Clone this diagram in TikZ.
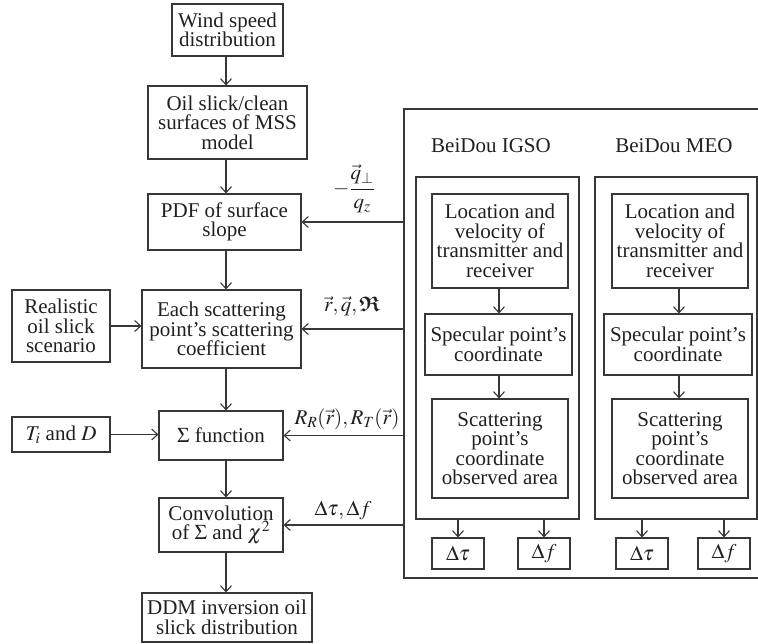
\documentclass[tikz,border=0pt]{standalone}
\usepackage{mathptmx}
\usepackage{amsmath,amssymb}
\usepackage[no-math]{fontspec}
\setmainfont{Liberation Serif}
\usetikzlibrary{arrows.meta}
\definecolor{ln}{RGB}{55,55,55}
\definecolor{tx}{RGB}{35,31,32}
\tikzset{
  box/.style={draw=ln, line width=1.1pt, inner sep=0pt, align=center, text=tx},
  lbl/.style={inner sep=0pt, text=tx},
  arr/.style={draw=ln, line width=1.1pt, -{Straight Barb[length=6pt,width=11pt,line width=1.1pt]}},
  ln/.style={draw=ln, line width=1.1pt}
}
\begin{document}
\begin{tikzpicture}[x=1pt,y=-1pt, every node/.append style={font=\fontsize{21}{19.5}\selectfont}]
\useasboundingbox (0,0) rectangle (758,644);
% left column
\node[box, minimum width=111, minimum height=52] (wind) at (227.5,30) {Wind speed\\distribution};
\node[box, minimum width=159, minimum height=73] (oil) at (227.5,122.5) {Oil slick/clean\\surfaces of MSS\\model};
\node[box, minimum width=153, minimum height=56] (pdf) at (224.5,222) {PDF of surface\\slope};
\node[box, minimum width=159, minimum height=78] (each) at (221.5,329) {Each scattering\\point’s scattering\\coefficient};
\node[box, minimum width=98, minimum height=72] (real) at (61,326) {Realistic\\oil slick\\scenario};
\node[box, minimum width=124, minimum height=49] (sig) at (221,435.5) {$\Sigma$ function};
\node[box, minimum width=98, minimum height=35] (ti) at (61,434.5) {$T_i$ and $D$};
\node[box, minimum width=124, minimum height=54] (conv) at (221,525) {Convolution\\of $\Sigma$ and $\chi^2$};
\node[box, minimum width=170, minimum height=49] (ddm) at (227,617.5) {DDM inversion oil\\slick distribution};
\coordinate (colx) at (226,0);
\draw[arr] (wind.south -| colx) -- (oil.north -| colx);
\draw[arr] (oil.south -| colx) -- (pdf.north -| colx);
\draw[arr] (pdf.south -| colx) -- (each.north -| colx);
\draw[arr] (each.south -| colx) -- (sig.north -| colx);
\draw[arr] (sig.south -| colx) -- (conv.north -| colx);
\draw[arr] (conv.south -| colx) -- (ddm.north -| colx);
\draw[arr] (real.east) -- (real.east -| each.west);
\draw[arr] (ti.east) -- (ti.east -| sig.west);
% big container
\coordinate (bigtl) at (404,109);
\coordinate (bigbl) at (404,578);
\draw[ln] (758,109) -- (bigtl) -- (bigbl) -- (758,578);
\draw[arr] (bigtl |- pdf.east) -- (pdf.east);
\draw[arr] (bigtl |- each.east) -- (each.east);
\draw[arr] (bigtl |- sig.east) -- (sig.east);
\draw[arr] (bigtl |- conv.east) -- (conv.east);
% labels on arrows
\node[lbl] (l1) at (354,189) {$-\dfrac{\vec{q}_{\perp}}{q_z}$};
\node[lbl] (l2) at (352,306) {$\vec{r}, \vec{q}, \boldsymbol{\mathfrak{R}}$};
\node[lbl] (l3) at (347,419) {$R_R(\vec{r}), R_T(\vec{r})$};
\node[lbl] (l4) at (343,511) {$\Delta\tau, \Delta f$};
% IGSO
\node[lbl] (tig) at (491,146) {BeiDou IGSO};
\node[box, minimum width=163, minimum height=342] (igso) at (497.5,348) {};
\node[box, minimum width=136, minimum height=94] (loc1) at (500,241) {Location and\\velocity of\\transmitter and\\receiver};
\node[box, minimum width=147, minimum height=61] (spec1) at (498.5,344.5) {Specular point’s\\coordinate};
\node[box, minimum width=136, minimum height=99] (scat1) at (500,448.5) {Scattering\\point’s\\coordinate\\observed area};
\node[box, minimum width=52, minimum height=31] (dt1) at (458,553.5) {$\Delta\tau$};
\node[box, minimum width=52, minimum height=31] (df1) at (544,553.5) {$\Delta f$};
\coordinate (c1) at (499,0);
\draw[arr] (loc1.south -| c1) -- (spec1.north -| c1);
\draw[arr] (spec1.south -| c1) -- (scat1.north -| c1);
\draw[arr] (igso.south -| dt1.north) -- (dt1.north);
\draw[arr] (igso.south -| df1.north) -- (df1.north);
% MEO
\node[lbl] (tme) at (674,146) {BeiDou MEO};
\node[box, minimum width=162, minimum height=342] (meo) at (676,348) {};
\node[box, minimum width=136, minimum height=94] (loc2) at (680,241) {Location and\\velocity of\\transmitter and\\receiver};
\node[box, minimum width=148, minimum height=61] (spec2) at (678,344.5) {Specular point’s\\coordinate};
\node[box, minimum width=136, minimum height=99] (scat2) at (680,448.5) {Scattering\\point’s\\coordinate\\observed area};
\node[box, minimum width=52, minimum height=31] (dt2) at (642,553.5) {$\Delta\tau$};
\node[box, minimum width=52, minimum height=31] (df2) at (724,553.5) {$\Delta f$};
\coordinate (c2) at (679,0);
\draw[arr] (loc2.south -| c2) -- (spec2.north -| c2);
\draw[arr] (spec2.south -| c2) -- (scat2.north -| c2);
\draw[arr] (meo.south -| dt2.north) -- (dt2.north);
\draw[arr] (meo.south -| df2.north) -- (df2.north);
\end{tikzpicture}
\end{document}
